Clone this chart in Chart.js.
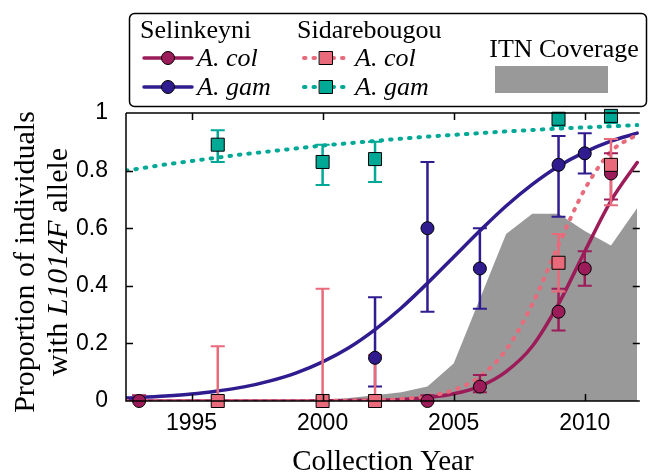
<!DOCTYPE html>
<html>
<head>
<meta charset="utf-8">
<title>L1014F allele frequency</title>
<script src="https://cdn.jsdelivr.net/npm/chart.js@4"></script>
<style>
  body { margin: 0; background: #fff; }
  canvas { display: block; }
</style>
</head>
<body>
<canvas id="myChart" width="650" height="474"></canvas>
<script>
// tick labels
const xTicks = [1995, 2000, 2005, 2010];
const yTicks = [0, 0.2, 0.4, 0.6, 0.8, 1];

// Selinkeyni, A. col (observed + 95% interval)
const selColYears = [1993, 2004, 2006, 2009, 2010, 2011];
const selColFreq = [0, 0, 0.05, 0.31, 0.46, 0.79];
const selColLow = [0, 0, 0.03, 0.245, 0.40, 0.70];
const selColHigh = [0.02, 0.02, 0.09, 0.39, 0.52, 0.86];

// Selinkeyni, A. gam
const selGamYears = [2002, 2004, 2006, 2009, 2010];
const selGamFreq = [0.15, 0.60, 0.46, 0.82, 0.86];
const selGamLow = [0.05, 0.31, 0.32, 0.64, 0.79];
const selGamHigh = [0.36, 0.83, 0.60, 0.92, 0.93];

// Sidarebougou, A. col
const sidColYears = [1996, 2000, 2002, 2009, 2011];
const sidColFreq = [0, 0, 0, 0.48, 0.82];
const sidColLow = [0, 0, 0, 0.38, 0.68];
const sidColHigh = [0.19, 0.39, 0.16, 0.58, 0.91];

// Sidarebougou, A. gam
const sidGamYears = [1996, 2000, 2002, 2009, 2011];
const sidGamFreq = [0.89, 0.83, 0.84, 0.98, 0.99];
const sidGamLow = [0.83, 0.75, 0.76, 0.955, 0.965];
const sidGamHigh = [0.94, 0.89, 0.90, 1.0, 1.0];

// fitted curves
const fitYears = [1992.5, 1993, 1994, 1995, 1996, 1997, 1998, 1999, 2000, 2001, 2002,
                  2003, 2004, 2005, 2006, 2007, 2008, 2009, 2010, 2011, 2012];
const selColFit = [0, 0, 0, 0, 0, 0, 0, 0.0003, 0.0006, 0.0013, 0.0027,
                   0.0056, 0.012, 0.025, 0.051, 0.102, 0.19, 0.337, 0.519, 0.695, 0.828];
const selGamFit = [0.010, 0.012, 0.017, 0.024, 0.035, 0.049, 0.070, 0.098, 0.136, 0.185, 0.248,
                   0.323, 0.409, 0.5, 0.591, 0.677, 0.752, 0.815, 0.864, 0.902, 0.930];
const sidColFit = [0, 0, 0, 0, 0, 0, 0, 0, 0.001, 0.0013, 0.003,
                   0.007, 0.017, 0.038, 0.085, 0.178, 0.336, 0.542, 0.735, 0.866, 0.925];
const sidGamFit = [0.800, 0.807, 0.821, 0.833, 0.845, 0.857, 0.867, 0.877, 0.887, 0.895, 0.903,
                   0.911, 0.918, 0.924, 0.930, 0.936, 0.941, 0.946, 0.950, 0.954, 0.958];

// ITN coverage
const itnYears = [1999.5, 2000, 2001, 2002, 2003, 2004, 2005, 2006, 2007, 2008, 2009, 2010, 2011, 2012];
const itnCover = [0, 0.005, 0.01, 0.02, 0.03, 0.05, 0.13, 0.355, 0.58, 0.65, 0.65, 0.59, 0.54, 0.67];

const MAGENTA = '#9c1c59';
const BLUE = '#301b8f';
const PINK = '#e96a7b';
const TEAL = '#00a896';
const GRAY = '#999999';
const SERIF = '"Liberation Serif", "Times New Roman", serif';
const SANS = '"Liberation Sans", Arial, sans-serif';

const pts = (xs, ys) => xs.map((x, i) => ({ x: x, y: ys[i] }));

function curve(xs, ys, color, dotted, order) {
  return {
    data: pts(xs, ys), showLine: true, pointRadius: 0, order: order,
    borderColor: color, borderWidth: dotted ? 4 : 3.5,
    borderDash: dotted ? [1.5, 8] : [], borderCapStyle: 'round',
    cubicInterpolationMode: 'monotone', fill: false
  };
}

function markers(xs, ys, color, style, order) {
  return {
    data: pts(xs, ys), isMarker: true, showLine: false, order: order, clip: false,
    pointStyle: style, pointRadius: style === 'rect' ? 9.2 : 6.5,
    backgroundColor: color, borderColor: '#000', borderWidth: 1
  };
}

const errorSets = [
  { xs: selColYears, lo: selColLow, hi: selColHigh, color: MAGENTA },
  { xs: selGamYears, lo: selGamLow, hi: selGamHigh, color: BLUE },
  { xs: sidColYears, lo: sidColLow, hi: sidColHigh, color: PINK },
  { xs: sidGamYears, lo: sidGamLow, hi: sidGamHigh, color: TEAL }
];

// error bars go in just before the first marker set is drawn
const errorBarPlugin = {
  id: 'errorBars',
  beforeDatasetsDraw(chart) { chart.$errDone = false; },
  beforeDatasetDraw(chart, args) {
    if (!chart.data.datasets[args.index].isMarker || chart.$errDone) return;
    chart.$errDone = true;
    const ctx = chart.ctx, xs = chart.scales.x, ys = chart.scales.y;
    ctx.save();
    errorSets.forEach(s => {
      ctx.strokeStyle = s.color;
      s.xs.forEach((yr, i) => {
        const px = xs.getPixelForValue(yr);
        const top = ys.getPixelForValue(s.hi[i]);
        const bot = ys.getPixelForValue(s.lo[i]);
        ctx.lineWidth = 2.5;
        ctx.beginPath();
        ctx.moveTo(px, top); ctx.lineTo(px, bot);
        ctx.stroke();
        ctx.lineWidth = 2;
        ctx.beginPath();
        ctx.moveTo(px - 7, top); ctx.lineTo(px + 7, top);
        ctx.moveTo(px - 7, bot); ctx.lineTo(px + 7, bot);
        ctx.stroke();
      });
    });
    ctx.restore();
  }
};

// box and inward ticks
const framePlugin = {
  id: 'frame',
  afterDatasetsDraw(chart) {
    const ctx = chart.ctx, a = chart.chartArea;
    const xs = chart.scales.x, ys = chart.scales.y;
    ctx.save();
    ctx.strokeStyle = '#000';
    ctx.lineWidth = 1.5;
    ctx.beginPath();
    ctx.moveTo(a.left, a.top); ctx.lineTo(a.left, a.bottom); ctx.lineTo(a.right, a.bottom);
    ctx.moveTo(a.left, a.top); ctx.lineTo(a.right, a.top);
    xTicks.forEach(v => {
      const px = Math.round(xs.getPixelForValue(v)) + 0.5;
      ctx.moveTo(px, a.bottom); ctx.lineTo(px, a.bottom - 7);
      ctx.moveTo(px, a.top); ctx.lineTo(px, a.top + 7);
    });
    yTicks.slice(1, -1).forEach(v => {
      const py = Math.round(ys.getPixelForValue(v)) + 0.5;
      ctx.moveTo(a.left, py); ctx.lineTo(a.left + 7, py);
      ctx.moveTo(a.right, py); ctx.lineTo(a.right - 7, py);
    });
    ctx.stroke();
    ctx.restore();
  },
  afterDraw(chart) {
    const ctx = chart.ctx;
    ctx.save();
    ctx.fillStyle = '#000';

    // y axis title, two lines, part italic
    ctx.save();
    ctx.translate(34, 262);
    ctx.rotate(-Math.PI / 2);
    ctx.textBaseline = 'alphabetic';
    ctx.textAlign = 'center';
    ctx.font = '30px ' + SERIF;
    ctx.fillText('Proportion of individuals', 0, 0);
    const parts = [['with ', ''], ['L1014F', 'italic '], [' allele', '']];
    let total = 0;
    parts.forEach(p => { ctx.font = p[1] + '30px ' + SERIF; p.push(ctx.measureText(p[0]).width); total += p[2]; });
    let ux = -total / 2;
    ctx.textAlign = 'left';
    parts.forEach(p => { ctx.font = p[1] + '30px ' + SERIF; ctx.fillText(p[0], ux, 33); ux += p[2]; });
    ctx.restore();

    // legend box
    ctx.strokeStyle = '#000';
    ctx.lineWidth = 1.5;
    ctx.beginPath();
    ctx.roundRect(129.5, 13.5, 517, 93, 5);
    ctx.fillStyle = '#fff';
    ctx.fill();
    ctx.stroke();

    ctx.fillStyle = '#000';
    ctx.textAlign = 'left';
    ctx.textBaseline = 'alphabetic';
    ctx.font = '26px ' + SERIF;
    ctx.fillText('Selinkeyni', 140, 38);
    ctx.fillText('Sidarebougou', 297, 38);
    ctx.textAlign = 'center';
    ctx.fillText('ITN Coverage', 564, 57);
    ctx.fillStyle = GRAY;
    ctx.fillRect(495, 66, 113, 27);

    const rows = [
      { x0: 144, y: 58, color: MAGENTA, dotted: false, shape: 'circle', label: 'A. col' },
      { x0: 144, y: 87, color: BLUE, dotted: false, shape: 'circle', label: 'A. gam' },
      { x0: 302, y: 58, color: PINK, dotted: true, shape: 'rect', label: 'A. col' },
      { x0: 302, y: 87, color: TEAL, dotted: true, shape: 'rect', label: 'A. gam' }
    ];
    rows.forEach(r => {
      const mid = r.x0 + 24;
      ctx.strokeStyle = r.color;
      ctx.lineWidth = r.dotted ? 4 : 3.5;
      ctx.lineCap = 'round';
      ctx.setLineDash(r.dotted ? [1.5, 8] : []);
      ctx.beginPath();
      ctx.moveTo(r.x0 + (r.dotted ? 2 : 0), r.y); ctx.lineTo(r.x0 + 48, r.y);
      ctx.stroke();
      ctx.setLineDash([]);
      ctx.fillStyle = r.color;
      ctx.strokeStyle = '#000';
      ctx.lineWidth = 1;
      ctx.beginPath();
      if (r.shape === 'circle') ctx.arc(mid, r.y, 6.5, 0, Math.PI * 2);
      else ctx.rect(mid - 6.5, r.y - 6.5, 13, 13);
      ctx.fill();
      ctx.stroke();
      ctx.fillStyle = '#000';
      ctx.textAlign = 'left';
      ctx.font = 'italic 26px ' + SERIF;
      ctx.fillText(r.label, r.x0 + 53, r.y + 8);
    });
    ctx.restore();
  }
};

const ctx = document.getElementById('myChart').getContext('2d');
new Chart(ctx, {
  type: 'scatter',
  data: {
    datasets: [
      markers(sidGamYears, sidGamFreq, TEAL, 'rect', 0),
      markers(sidColYears, sidColFreq, PINK, 'rect', 1),
      markers(selGamYears, selGamFreq, BLUE, 'circle', 2),
      markers(selColYears, selColFreq, MAGENTA, 'circle', 3),
      curve(fitYears, sidGamFit, TEAL, true, 5),
      curve(fitYears, sidColFit, PINK, true, 6),
      curve(fitYears, selGamFit, BLUE, false, 7),
      curve(fitYears, selColFit, MAGENTA, false, 8),
      {
        data: pts(itnYears, itnCover), showLine: true, pointRadius: 0, order: 10,
        borderWidth: 0, borderColor: GRAY, backgroundColor: GRAY, fill: 'origin', tension: 0
      }
    ]
  },
  options: {
    responsive: false,
    animation: false,
    events: [],
    layout: { padding: { top: 113, right: 3, left: 0, bottom: 0 } },
    plugins: { legend: { display: false }, tooltip: { enabled: false } },
    scales: {
      x: {
        type: 'linear', min: 1992.5, max: 2012.1,
        afterBuildTicks: s => { s.ticks = xTicks.map(v => ({ value: v })); },
        afterFit: s => { s.height = 73; },
        grid: { display: false }, border: { display: false },
        ticks: { color: '#000', padding: 1, maxRotation: 0, font: { family: SANS, size: 23 }, callback: v => String(v) },
        title: { display: true, text: 'Collection Year', color: '#000',
                 font: { family: SERIF, size: 29, lineHeight: 0.8 }, padding: { top: 0, bottom: 0 } }
      },
      y: {
        min: 0, max: 1,
        afterBuildTicks: s => { s.ticks = yTicks.map(v => ({ value: v })); },
        afterFit: s => { s.width = 126; },
        grid: { display: false }, border: { display: false },
        ticks: { color: '#000', padding: 10, font: { family: SANS, size: 23 }, callback: v => String(+v.toFixed(1)) }
      }
    }
  },
  plugins: [errorBarPlugin, framePlugin]
});
</script>
</body>
</html>
